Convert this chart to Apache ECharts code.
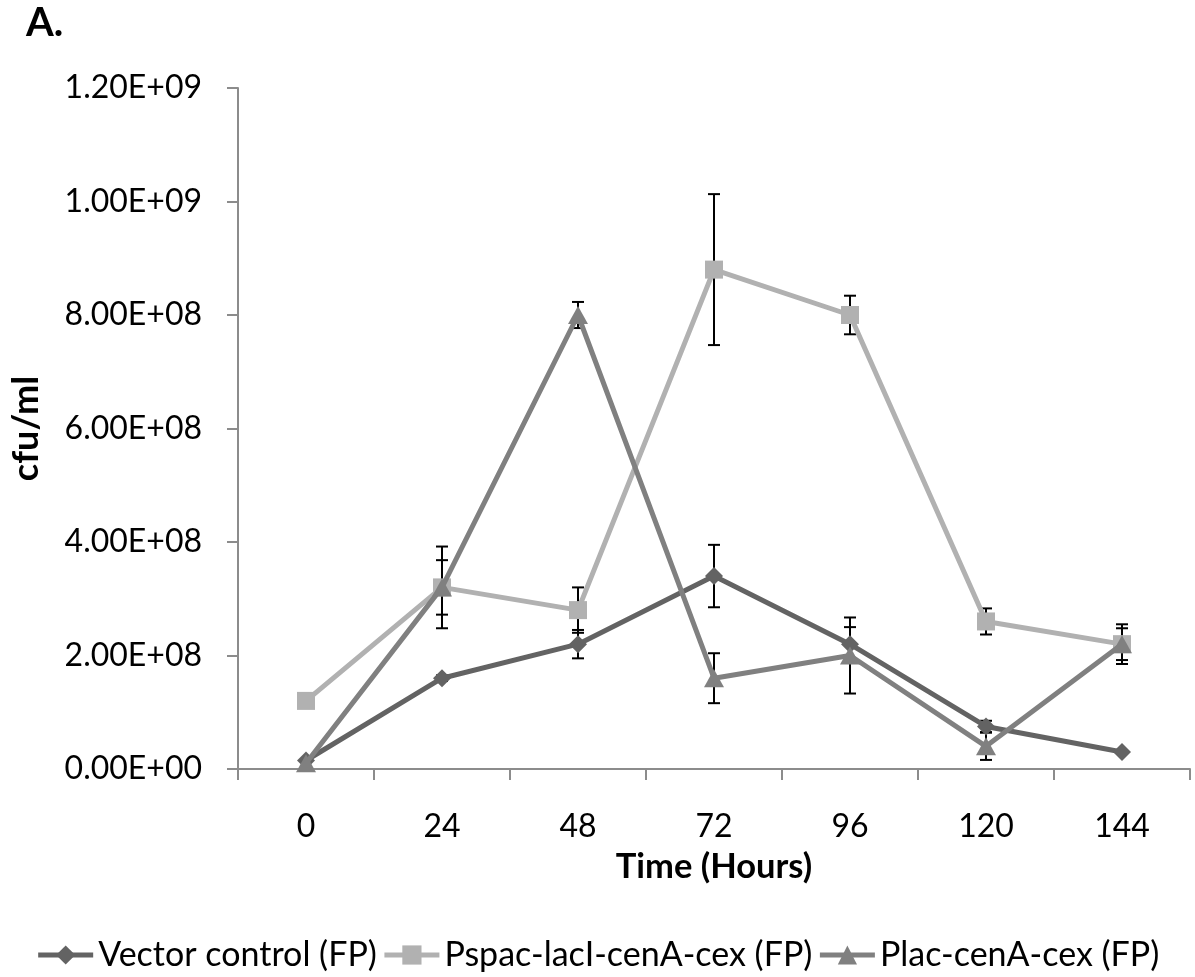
<!DOCTYPE html>
<html>
<head>
<meta charset="utf-8">
<script src="https://cdn.jsdelivr.net/npm/echarts@6/dist/echarts.min.js"></script>
<style>
html,body{margin:0;padding:0;background:#fff;}
#chart{width:1195px;height:977px;}
</style>
</head>
<body>
<div id="chart"></div>
<script>
var categories = ['0','24','48','72','96','120','144'];
var yTickLabels = ['0.00E+00','2.00E+08','4.00E+08','6.00E+08','8.00E+08','1.00E+09','1.20E+09'];
var seriesNames = ['Vector control (FP)','Pspac-lacI-cenA-cex (FP)','Plac-cenA-cex (FP)'];

var vectorValues = [1.5e7, 1.6e8, 2.2e8, 3.4e8, 2.2e8, 7.5e7, 3.0e7];
var vectorErrors = [0, 5e6, 2.5e7, 5.5e7, 3.0e7, 1.0e7, 0];

var pspacValues = [1.2e8, 3.2e8, 2.8e8, 8.8e8, 8.0e8, 2.6e8, 2.2e8];
var pspacErrors = [0, 4.8e7, 4.0e7, 1.33e8, 3.4e7, 2.3e7, 2.8e7];

var placValues = [1.0e7, 3.2e8, 8.0e8, 1.6e8, 2.0e8, 4.0e7, 2.2e8];
var placErrors = [0, 7.2e7, 2.3e7, 4.4e7, 6.7e7, 2.4e7, 3.5e7];

var colors = ['#636363', '#b1b1b1', '#808080'];
var symbols = ['diamond', 'rect', 'triangle'];
var symbolSizes = [[18,18], [18,18], [20,18]];
var FONT = 'Lato, "Open Sans", sans-serif';

function errData(vals, errs) {
  var out = [];
  for (var i = 0; i < vals.length; i++) {
    if (errs[i] > 0) out.push([i, vals[i] - errs[i], vals[i] + errs[i]]);
  }
  return out;
}

function renderErr(params, api) {
  var x = api.value(0);
  var lo = api.coord([x, api.value(1)]);
  var hi = api.coord([x, api.value(2)]);
  var hw = 6;
  var st = {stroke: '#000', lineWidth: 2};
  return {
    type: 'group',
    children: [
      {type: 'line', shape: {x1: lo[0], y1: lo[1], x2: hi[0], y2: hi[1]}, style: st},
      {type: 'line', shape: {x1: lo[0]-hw, y1: lo[1], x2: lo[0]+hw, y2: lo[1]}, style: st},
      {type: 'line', shape: {x1: hi[0]-hw, y1: hi[1], x2: hi[0]+hw, y2: hi[1]}, style: st}
    ]
  };
}

var allVals = [vectorValues, pspacValues, placValues];
var allErrs = [vectorErrors, pspacErrors, placErrors];
var series = [];
for (var s = 0; s < 3; s++) {
  series.push({
    type: 'custom',
    name: seriesNames[s] + ' err',
    renderItem: renderErr,
    data: errData(allVals[s], allErrs[s]),
    encode: {x: 0, y: [1, 2]},
    z: 1,
    silent: true
  });
}
for (var s2 = 0; s2 < 3; s2++) {
  series.push({
    type: 'line',
    name: seriesNames[s2],
    data: allVals[s2],
    symbol: symbols[s2],
    symbolSize: symbolSizes[s2],
    showAllSymbol: true,
    lineStyle: {color: colors[s2], width: 5},
    itemStyle: {color: colors[s2], opacity: 1},
    z: 3 + s2,
    animation: false
  });
}

var chart = echarts.init(document.getElementById('chart'));
chart.setOption({
  animation: false,
  backgroundColor: '#ffffff',
  title: {
    text: 'A.',
    left: 26, top: 3, padding: 0,
    textStyle: {fontFamily: FONT, fontSize: 40, fontWeight: 'bold', color: '#000'}
  },
  grid: {left: 234, right: 5, top: 88, bottom: 208, containLabel: false},
  legend: {
    data: seriesNames,
    bottom: 0,
    left: 'center',
    itemWidth: 55,
    itemHeight: 24,
    itemGap: 5,
    lineStyle: {width: 5},
    textStyle: {fontFamily: FONT, fontSize: 34, color: '#000'}
  },
  xAxis: {
    type: 'category',
    data: categories,
    boundaryGap: true,
    name: 'Time (Hours)',
    nameLocation: 'middle',
    nameGap: 80,
    nameTextStyle: {fontFamily: FONT, fontSize: 34.5, fontWeight: 'bold', color: '#000'},
    axisLine: {lineStyle: {color: '#8c8c8c', width: 2}},
    axisTick: {show: true, alignWithLabel: false, length: 11, lineStyle: {color: '#8c8c8c', width: 2}},
    axisLabel: {fontFamily: FONT, fontSize: 32, color: '#000', margin: 42},
    splitLine: {show: false}
  },
  yAxis: {
    type: 'value',
    min: 0, max: 1.2e9, interval: 2e8,
    name: 'cfu/ml',
    nameLocation: 'middle',
    nameGap: 194,
    nameRotate: 90,
    nameTextStyle: {fontFamily: FONT, fontSize: 36, fontWeight: 'bold', color: '#000'},
    axisLine: {show: true, lineStyle: {color: '#8c8c8c', width: 2}},
    axisTick: {show: true, length: 11, lineStyle: {color: '#8c8c8c', width: 2}},
    axisLabel: {
      fontFamily: FONT, fontSize: 32, color: '#000', margin: 36,
      formatter: function(v){ var i = Math.round(v / 2e8); return yTickLabels[i] || ''; }
    },
    splitLine: {show: false}
  },
  series: series
});
</script>
</body>
</html>
